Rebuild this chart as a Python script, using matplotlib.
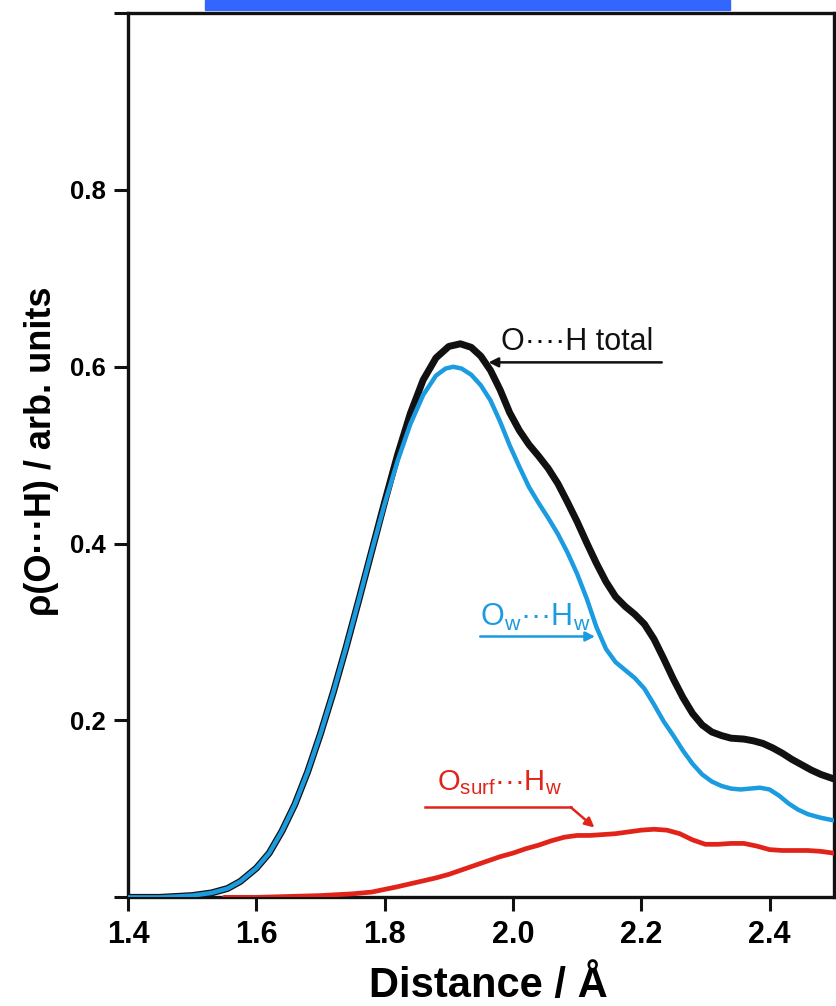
import matplotlib
matplotlib.use("Agg")
import matplotlib.pyplot as plt
from matplotlib.patches import Rectangle

plt.rcParams["font.family"] = ["Liberation Sans", "DejaVu Sans"]
plt.rcParams["mathtext.fontset"] = "custom"
plt.rcParams["mathtext.rm"] = "Liberation Sans"

# O...H total
dist_total = [1.40, 1.45, 1.50, 1.53, 1.555, 1.575, 1.60, 1.62, 1.64, 1.66,
              1.68, 1.70, 1.72, 1.74, 1.76, 1.78, 1.80, 1.82, 1.84, 1.86,
              1.88, 1.90, 1.918, 1.935, 1.95, 1.965, 1.98, 1.995, 2.01, 2.025,
              2.04, 2.055, 2.07, 2.085, 2.10, 2.115, 2.13, 2.145, 2.16, 2.175,
              2.19, 2.205, 2.22, 2.235, 2.25, 2.265, 2.28, 2.295, 2.31, 2.325,
              2.34, 2.36, 2.375, 2.39, 2.405, 2.42, 2.435, 2.45, 2.465, 2.48,
              2.50]
rho_total = [0.000, 0.000, 0.002, 0.005, 0.010, 0.018, 0.033, 0.050, 0.075,
             0.105, 0.142, 0.185, 0.232, 0.283, 0.337, 0.392, 0.447, 0.500,
             0.547, 0.585, 0.610, 0.623, 0.626, 0.622, 0.612, 0.596, 0.574,
             0.548, 0.528, 0.512, 0.499, 0.485, 0.468, 0.447, 0.425, 0.401,
             0.378, 0.357, 0.340, 0.329, 0.320, 0.309, 0.292, 0.270, 0.247,
             0.226, 0.208, 0.195, 0.187, 0.183, 0.180, 0.179, 0.177, 0.174,
             0.169, 0.163, 0.156, 0.150, 0.144, 0.139, 0.134]

# Ow...Hw
dist_water = [1.40, 1.45, 1.50, 1.53, 1.555, 1.575, 1.60, 1.62, 1.64, 1.66,
              1.68, 1.70, 1.72, 1.74, 1.76, 1.78, 1.80, 1.82, 1.84, 1.86,
              1.88, 1.895, 1.907, 1.92, 1.935, 1.95, 1.965, 1.98, 1.995, 2.01,
              2.025, 2.04, 2.055, 2.07, 2.085, 2.10, 2.115, 2.13, 2.145, 2.16,
              2.175, 2.19, 2.205, 2.22, 2.235, 2.25, 2.265, 2.28, 2.295, 2.31,
              2.325, 2.34, 2.355, 2.37, 2.385, 2.40, 2.415, 2.43, 2.445, 2.46,
              2.48, 2.50]
rho_water = [0.000, 0.000, 0.002, 0.005, 0.010, 0.018, 0.033, 0.050, 0.075,
             0.105, 0.142, 0.185, 0.232, 0.283, 0.337, 0.392, 0.445, 0.493,
             0.535, 0.568, 0.590, 0.598, 0.600, 0.598, 0.591, 0.579, 0.562,
             0.538, 0.511, 0.487, 0.464, 0.446, 0.429, 0.411, 0.390, 0.366,
             0.338, 0.306, 0.281, 0.266, 0.257, 0.248, 0.236, 0.218, 0.199,
             0.183, 0.166, 0.151, 0.139, 0.131, 0.126, 0.123, 0.122, 0.123,
             0.124, 0.122, 0.115, 0.106, 0.099, 0.094, 0.090, 0.087]

# Osurf...Hw
dist_surf = [1.55, 1.60, 1.65, 1.70, 1.75, 1.78, 1.80, 1.82, 1.85, 1.88, 1.90,
             1.92, 1.94, 1.96, 1.98, 2.00, 2.02, 2.04, 2.06, 2.08, 2.10, 2.12,
             2.14, 2.16, 2.18, 2.20, 2.22, 2.24, 2.26, 2.28, 2.30, 2.32, 2.34,
             2.36, 2.38, 2.40, 2.42, 2.44, 2.46, 2.48, 2.50]
rho_surf = [0.000, 0.000, 0.001, 0.002, 0.004, 0.006, 0.009, 0.012, 0.017,
            0.022, 0.026, 0.031, 0.036, 0.041, 0.046, 0.050, 0.055, 0.059,
            0.064, 0.068, 0.070, 0.070, 0.071, 0.072, 0.074, 0.076, 0.077,
            0.076, 0.072, 0.065, 0.060, 0.060, 0.061, 0.061, 0.058, 0.054,
            0.053, 0.053, 0.053, 0.052, 0.050]

x_ticks = [1.4, 1.6, 1.8, 2.0, 2.2, 2.4]
y_ticks = [0.0, 0.2, 0.4, 0.6, 0.8, 1.0]
y_tick_labels = ["", "0.2", "0.4", "0.6", "0.8", ""]

BLACK = "#111111"
BLUE = "#1b9be0"
RED = "#e2231a"

fig = plt.figure(figsize=(8.37, 10.06), dpi=100)
ax = fig.add_axes([0.153, 0.108, 0.843, 0.879])

# Blue strip at the top of the figure
fig.patches.append(Rectangle((0.245, 0.990), 0.627, 0.010,
                             transform=fig.transFigure, color="#3366ff",
                             zorder=0))

ax.plot(dist_total, rho_total, color=BLACK, lw=5.0, solid_capstyle="round",
        solid_joinstyle="round", zorder=2)
ax.plot(dist_water, rho_water, color=BLUE, lw=3.2, solid_capstyle="round",
        solid_joinstyle="round", zorder=3)
ax.plot(dist_surf, rho_surf, color=RED, lw=3.4, solid_capstyle="round",
        solid_joinstyle="round", zorder=3)

ax.set_xlim(1.4, 2.5)
ax.set_ylim(0.0, 1.0)
ax.set_xticks(x_ticks)
ax.set_xticklabels([f"{v:.1f}" for v in x_ticks])
ax.set_yticks(y_ticks)
ax.set_yticklabels(y_tick_labels)

for spine in ax.spines.values():
    spine.set_linewidth(2.4)
    spine.set_color(BLACK)

ax.tick_params(direction="out", length=10, width=2.2, color=BLACK, pad=6)
ax.tick_params(axis="x", labelsize=22)
ax.tick_params(axis="y", labelsize=18.5)
for lbl in ax.get_xticklabels() + ax.get_yticklabels():
    lbl.set_fontweight("bold")

ax.set_xlabel("Distance / Å", fontsize=30, fontweight="bold")
ax.xaxis.set_label_coords(0.511, -0.078)
ax.set_ylabel("ρ(O\u00b7\u00b7\u00b7H) / arb. units", fontsize=26,
              fontweight="bold")
ax.yaxis.set_label_coords(-0.098, 0.505)

# Annotations
ax.text(1.981, 0.611, "O\u00b7\u00b7\u00b7\u00b7H total", color=BLACK,
        fontsize=22, ha="left", va="bottom")
ax.annotate("", xy=(1.962, 0.605), xytext=(2.232, 0.605),
            arrowprops=dict(arrowstyle="-|>", color=BLACK, lw=1.8,
                            mutation_scale=14, shrinkA=0, shrinkB=0))

ax.text(1.9485, 0.307,
        r"O$_\mathregular{w}$" + "\u00b7\u00b7\u00b7" + r"H$_\mathregular{w}$",
        color=BLUE, fontsize=22, ha="left", va="baseline")
ax.annotate("", xy=(2.128, 0.295), xytext=(1.949, 0.295),
            arrowprops=dict(arrowstyle="-|>", color=BLUE, lw=1.8,
                            mutation_scale=14, shrinkA=0, shrinkB=0))

ax.text(1.882, 0.121,
        r"O$_\mathregular{surf}$" + "\u00b7\u00b7\u00b7"
        + r"H$_\mathregular{w}$",
        color=RED, fontsize=21, ha="left", va="baseline")
ax.plot([1.863, 2.09], [0.102, 0.102], color=RED, lw=1.8)
ax.annotate("", xy=(2.127, 0.079), xytext=(2.09, 0.102),
            arrowprops=dict(arrowstyle="-|>", color=RED, lw=1.8,
                            mutation_scale=14, shrinkA=0, shrinkB=0))

fig.savefig("out.png", dpi=100)
